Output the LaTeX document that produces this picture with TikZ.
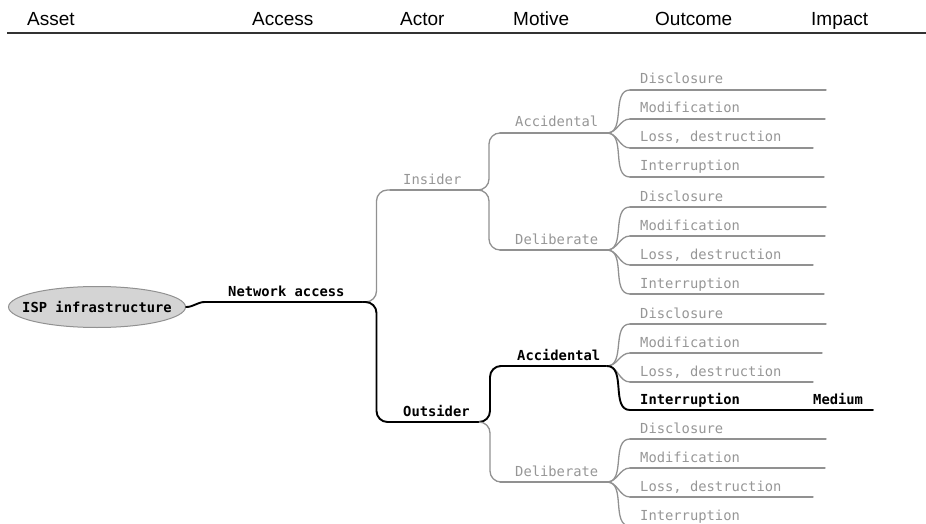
\documentclass[tikz,border=0pt]{standalone}
\usepackage{fontspec}
\setmainfont{Liberation Sans}
\newfontfamily\mapfont{DejaVu Sans Mono}
\usetikzlibrary{calc,shapes.geometric}

\definecolor{mmgray}{RGB}{150,150,150}
\definecolor{mmline}{RGB}{145,145,145}
\definecolor{mmfill}{RGB}{212,212,212}
\definecolor{rulecol}{RGB}{50,50,50}

\tikzset{
  head/.style={anchor=base west, inner sep=0, font=\fontsize{19}{19}\selectfont},
  dimlabel/.style={anchor=base west, inner sep=0, text=mmgray,
    font=\mapfont\fontsize{13.8}{14}\selectfont},
  hotlabel/.style={dimlabel, text=black, font=\mapfont\bfseries\fontsize{13.8}{14}\selectfont},
  dimline/.style={draw=mmline, line width=1.3pt, line cap=round},
  hotline/.style={draw=black, line width=1.9pt, line cap=round},
  elbow/.style={rounded corners=11pt},
  fan/.style={out=0, in=180},
  rootnode/.style={ellipse, draw=mmline, fill=mmfill, line width=1pt,
    minimum width=177pt, minimum height=41pt, inner sep=0,
    font=\mapfont\bfseries\fontsize{13.8}{14}\selectfont}
}

% one labelled branch: name, x start, x end, y, text x, text, kind (dim/hot)
\newcommand{\mmbranch}[7]{%
  \coordinate (#1-s) at (#2,#4);
  \coordinate (#1-e) at (#3,#4);
  \node[#7label] (#1) at (#5,#4-6) {#6};
  \path[#7line] (#1-s) -- (#1-e);
}

\begin{document}
\begin{tikzpicture}[x=1pt, y=-1pt]
\useasboundingbox (0,0) rectangle (926,524);
\clip (0,0) rectangle (926,524);

% column headings and rule
\node[head] (h-asset)   at (27,26)  {Asset};
\node[head] (h-access)  at (252,26) {Access};
\node[head] (h-actor)   at (400,26) {Actor};
\node[head] (h-motive)  at (513,26) {Motive};
\node[head] (h-outcome) at (655,26) {Outcome};
\node[head] (h-impact)  at (811,26) {Impact};
\coordinate (rule-l) at (7,33);
\coordinate (rule-r) at (926,33);
\draw[rulecol, line width=2pt] (rule-l) -- (rule-r);

% asset
\node[rootnode] (root) at (97,307) {\makebox[0pt]{ISP infrastructure}};

% access
\mmbranch{na}{205}{363}{302}{228}{Network access}{hot}
\path[hotline] (root.east) to[fan] (na-s);

% actors
\mmbranch{ins}{390}{478}{190}{403}{Insider}{dim}
\mmbranch{out}{390}{480}{422}{403}{Outsider}{hot}
\path[dimline, elbow] (na-e) -| ($(na-e)!0.5!(ins-s)$) |- (ins-s);
\path[hotline, elbow] (na-e) -| ($(na-e)!0.5!(out-s)$) |- (out-s);

% motives
\mmbranch{insacc}{500}{607}{133}{515}{Accidental}{dim}
\mmbranch{insdel}{500}{607}{250}{515}{Deliberate}{dim}
\mmbranch{outacc}{500}{607}{366}{517}{Accidental}{hot}
\mmbranch{outdel}{500}{607}{482}{515}{Deliberate}{dim}
\path[dimline, elbow] (ins-e) -| ($(ins-e)!0.5!(insacc-s)$) |- (insacc-s);
\path[dimline, elbow] (ins-e) -| ($(ins-e)!0.5!(insdel-s)$) |- (insdel-s);
\path[hotline, elbow] (out-e) -| ($(out-e)!0.5!(outacc-s)$) |- (outacc-s);
\path[dimline, elbow] (out-e) -| ($(out-e)!0.5!(outdel-s)$) |- (outdel-s);

% outcomes
\foreach \m/\y in {insacc/90, insdel/207, outdel/439} {
  \mmbranch{\m-dis}{630}{826}{\y}{640}{Disclosure}{dim}
  \mmbranch{\m-mod}{630}{825}{\y+29}{640}{Modification}{dim}
  \mmbranch{\m-los}{630}{813}{\y+58}{640}{Loss, destruction}{dim}
  \mmbranch{\m-int}{630}{824}{\y+87}{640}{Interruption}{dim}
  \path[dimline] (\m-e) to[fan] (\m-dis-s);
  \path[dimline] (\m-e) to[fan] (\m-mod-s);
  \path[dimline] (\m-e) to[fan] (\m-los-s);
  \path[dimline] (\m-e) to[fan] (\m-int-s);
}
\mmbranch{outacc-dis}{630}{826}{324}{640}{Disclosure}{dim}
\mmbranch{outacc-mod}{630}{822}{353}{640}{Modification}{dim}
\mmbranch{outacc-los}{630}{813}{382}{640}{Loss, destruction}{dim}
\mmbranch{outacc-int}{630}{873}{410}{640}{Interruption}{hot}
\path[dimline] (outacc-e) to[fan] (outacc-dis-s);
\path[dimline] (outacc-e) to[fan] (outacc-mod-s);
\path[dimline] (outacc-e) to[fan] (outacc-los-s);
\path[hotline] (outacc-e) to[fan] (outacc-int-s);

% impact
\node[hotlabel] (medium) at (813,404) {Medium};
\end{tikzpicture}
\end{document}
